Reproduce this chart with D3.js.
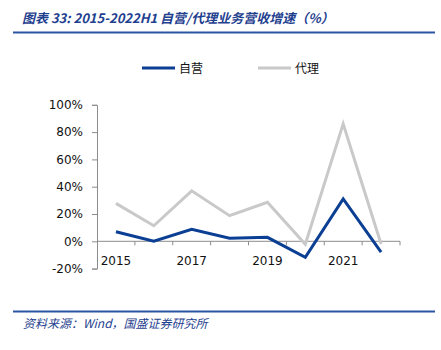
<!DOCTYPE html>
<html>
<head>
<meta charset="utf-8">
<script src="https://cdn.jsdelivr.net/npm/d3@7"></script>
<style>
  body { margin: 0; background: #fff; }
  svg text { font-family: "DejaVu Sans", Verdana, sans-serif; }
</style>
</head>
<body>
<div id="chart"></div>
<script>
//************* data ***************/
var years = ["2015", "2016", "2017", "2018", "2019", "2020", "2021", "2022H1"];
var tickYears = ["2015", "2017", "2019", "2021"];
var ziying = [7, 0, 8.8, 2.2, 2.9, -11.7, 31, -8];       // 自营
var daili  = [27.8, 11.4, 37, 18.8, 28.6, -2.2, 86, -2];   // 代理
var yTicks = [-20, 0, 20, 40, 60, 80, 100];

var seriesNames = ["自营", "代理"];
var seriesColors = ["#0B3F94", "#C9C9C9"];

//************* dimensions ***************/
var W = 441, H = 350;
var plot = {left: 97, right: 400, top: 104.8, bottom: 268.6};

var svg = d3.select("#chart")
  .append("svg")
    .attr("width", W)
    .attr("height", H);

//************* title + rules ***************/
svg.append("text")
  .attr("x", 22)
  .attr("y", 23)
  .attr("font-size", "13px")
  .attr("font-style", "italic")
  .attr("font-weight", "bold")
  .attr("fill", "#1F3F8F")
  .style("font-family", "'Noto Sans CJK SC', sans-serif")
  .text("图表 33:  2015-2022H1 自营/代理业务营收增速（%）");

svg.append("line")
  .attr("x1", 13).attr("x2", 435)
  .attr("y1", 32.5).attr("y2", 32.5)
  .attr("stroke", "#2A55A0").attr("stroke-width", 2);

svg.append("line")
  .attr("x1", 13).attr("x2", 435)
  .attr("y1", 311.5).attr("y2", 311.5)
  .attr("stroke", "#2A55A0").attr("stroke-width", 2);

svg.append("text")
  .attr("x", 23)
  .attr("y", 328)
  .attr("font-size", "12px")
  .attr("font-style", "italic")
  .attr("fill", "#1F3F8F")
  .style("font-family", "'Noto Sans CJK SC', sans-serif")
  .text("资料来源：Wind，国盛证券研究所");

//************* scales ***************/
var x = d3.scaleBand()
  .domain(years)
  .range([plot.left, plot.right]);

var y = d3.scaleLinear()
  .domain([-20, 100])
  .range([plot.bottom, plot.top]);

//************* axes ***************/
// y axis
var yAxis = d3.axisLeft(y)
  .tickValues(yTicks)
  .tickSize(5)
  .tickPadding(9)
  .tickFormat(function(d){ return d + "%"; });

var gy = svg.append("g")
  .attr("transform", "translate(" + plot.left + ",0)")
  .call(yAxis);
gy.select(".domain").attr("stroke", "#8c8c8c");
gy.selectAll(".tick line").attr("stroke", "#8c8c8c");
gy.selectAll(".tick text")
  .attr("font-size", "12px")
  .attr("fill", "#111")
  .style("font-family", "'DejaVu Sans', sans-serif");

// x axis at 0%
var gx = svg.append("g")
  .attr("transform", "translate(0," + y(0) + ")");
gx.append("line")
  .attr("x1", plot.left).attr("x2", plot.right)
  .attr("stroke", "#8c8c8c");
var bounds = years.map(function(d){ return x(d); }).concat([x(years[years.length - 1]) + x.bandwidth()]);
gx.selectAll(".xtick")
  .data(bounds.slice(1))
  .enter()
  .append("line")
    .attr("x1", function(d){ return d; })
    .attr("x2", function(d){ return d; })
    .attr("y1", 0).attr("y2", 4)
    .attr("stroke", "#8c8c8c");
gx.selectAll(".xlabel")
  .data(tickYears)
  .enter()
  .append("text")
    .attr("x", function(d){ return x(d) + x.bandwidth() / 2; })
    .attr("y", 24)
    .attr("text-anchor", "middle")
    .attr("font-size", "12px")
    .attr("fill", "#111")
    .text(function(d){ return d; });

//************* lines ***************/
var line = d3.line()
  .x(function(d, i){ return x(years[i]) + x.bandwidth() / 2; })
  .y(function(d){ return y(d); });

[daili, ziying].forEach(function(vals, k){
  var c = k === 0 ? seriesColors[1] : seriesColors[0];
  svg.append("path")
    .datum(vals)
    .attr("fill", "none")
    .attr("stroke", c)
    .attr("stroke-width", 3)
    .attr("stroke-linejoin", "miter")
    .attr("d", line);
});

//************* legend ***************/
var legendX = [142, 258];
seriesNames.forEach(function(name, i){
  var g = svg.append("g")
    .attr("transform", "translate(" + legendX[i] + ",68)");
  g.append("line")
    .attr("x1", 0).attr("x2", 33)
    .attr("stroke", seriesColors[i])
    .attr("stroke-width", 3);
  g.append("text")
    .attr("x", 37)
    .attr("y", 5)
    .attr("font-size", "12px")
    .attr("fill", "#111")
    .style("font-family", "'Noto Sans CJK SC', serif")
    .text(name);
});
</script>
</body>
</html>
